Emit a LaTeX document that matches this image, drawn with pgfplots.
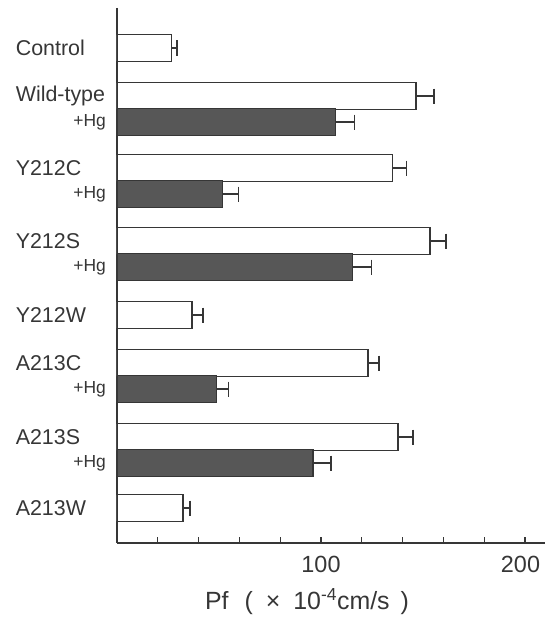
\documentclass[border=0pt]{standalone}
\usepackage{fontspec}
\setmainfont{Liberation Sans}
\usepackage{pgfplots}
\pgfplotsset{compat=1.18}
\definecolor{ink}{HTML}{363636}
\definecolor{darkfill}{HTML}{575757}
\begin{document}
\begin{tikzpicture}
\path[use as bounding box] (-117bp,-78bp) rectangle (428bp,543bp);
\begin{axis}[
  at={(0,0)}, anchor=south west,
  scale only axis, width=428bp, height=535bp,
  xmin=0, xmax=209.8, ymin=8, ymax=543, y dir=reverse,
  enlargelimits=false,
  axis x line=bottom, axis y line=left,
  axis line style={-, line width=1.4bp, draw=ink},
  xtick={20,40,...,200},
  xticklabels={,,,,100,,,,,\makebox[0pt]{\hspace{-9bp}200}},
  tick align=inside, major tick length=6bp,
  xtick style={line width=1.3bp, draw=ink},
  /pgf/number format/assume math mode=true,
  xticklabel style={font=\fontsize{23.5}{26}\selectfont, text=ink, yshift=-10bp},
  ytick={48,96,122,168,194,241,267,315,363,389,437,463,508},
  yticklabels={
    \makebox[90bp][l]{\fontsize{21.5}{23}\selectfont Control},
    \makebox[90bp][l]{\fontsize{21.5}{23}\selectfont Wild-type},
    \makebox[90bp][r]{\fontsize{17.5}{19}\selectfont +Hg},
    \makebox[90bp][l]{\fontsize{21.5}{23}\selectfont Y212C},
    \makebox[90bp][r]{\fontsize{17.5}{19}\selectfont +Hg},
    \makebox[90bp][l]{\fontsize{21.5}{23}\selectfont Y212S},
    \makebox[90bp][r]{\fontsize{17.5}{19}\selectfont +Hg},
    \makebox[90bp][l]{\fontsize{21.5}{23}\selectfont Y212W},
    \makebox[90bp][l]{\fontsize{21.5}{23}\selectfont A213C},
    \makebox[90bp][r]{\fontsize{17.5}{19}\selectfont +Hg},
    \makebox[90bp][l]{\fontsize{21.5}{23}\selectfont A213S},
    \makebox[90bp][r]{\fontsize{17.5}{19}\selectfont +Hg},
    \makebox[90bp][l]{\fontsize{21.5}{23}\selectfont A213W}},
  ytick style={draw=none},
  yticklabel style={anchor=east, inner sep=0pt, xshift=-5bp, text=ink},
  xlabel={Pf\hspace{16bp}(\hspace{13bp}×\hspace{13bp}10\textsuperscript{-4}cm/s\hspace{11bp})},
  xlabel style={font=\fontsize{25}{28}\selectfont, text=ink, xshift=-24bp, yshift=-9bp},
  xbar, bar width=26.5, bar shift=0pt,
  error bars/x dir=plus, error bars/x explicit,
  error bars/error bar style={line width=1.4bp, draw=ink},
  error bars/error mark options={line width=1.4bp, draw=ink, mark size=7.5bp, rotate=90},
]
\addplot[draw=ink, line width=1.4bp, fill=white] coordinates {
  (26.6,48) +- (2.9,0)
  (146.5,96) +- (8.8,0)
  (135.0,168) +- (6.8,0)
  (153.4,241) +- (7.8,0)
  (36.8,315) +- (5.4,0)
  (123.0,363) +- (5.4,0)
  (137.8,437) +- (7.3,0)
  (32.4,508) +- (3.4,0)
};
\addplot[draw=ink, line width=1.4bp, fill=darkfill] coordinates {
  (107.0,122) +- (9.3,0)
  (51.8,194) +- (7.8,0)
  (115.5,267) +- (9.3,0)
  (48.8,389) +- (5.9,0)
  (96.1,463) +- (8.8,0)
};
\end{axis}
\end{tikzpicture}
\end{document}
